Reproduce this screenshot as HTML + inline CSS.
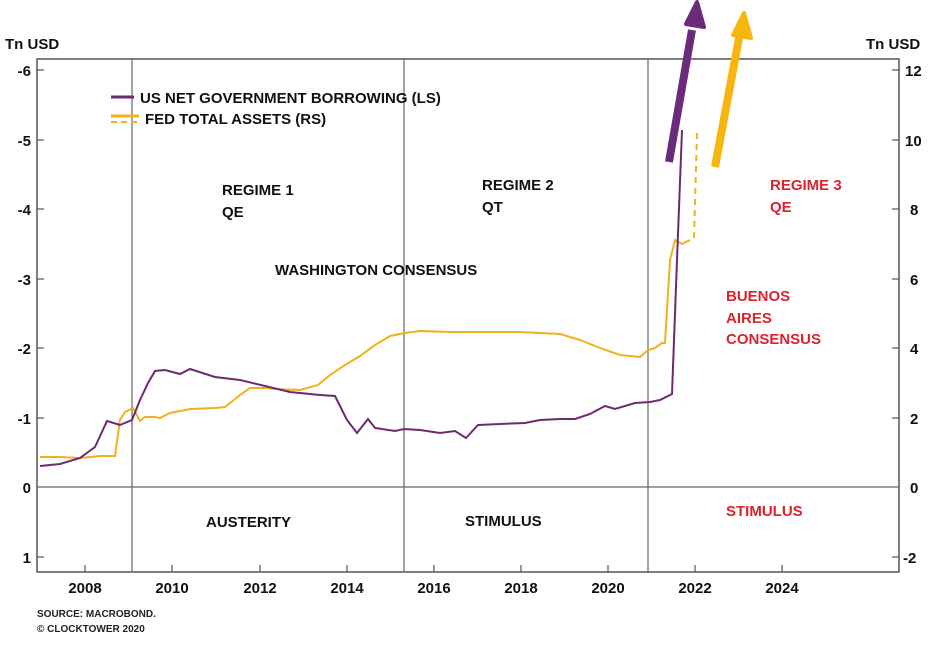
<!DOCTYPE html>
<html><head><style>body{margin:0;background:#fff}svg{display:block}text{font-family:"Liberation Sans",Arial,sans-serif;font-weight:bold}</style></head><body>
<svg width="940" height="651" viewBox="0 0 940 651" xmlns="http://www.w3.org/2000/svg">
<rect x="37" y="59" width="862" height="513" fill="none" stroke="#555" stroke-width="1.5"/>
<g stroke="#666" stroke-width="1.2">
<line x1="132" y1="59" x2="132" y2="572"/><line x1="404" y1="59" x2="404" y2="572"/><line x1="648" y1="59" x2="648" y2="572"/>
<line x1="37" y1="487" x2="899" y2="487"/>
</g>
<g stroke="#555" stroke-width="1.2">
<line x1="37" y1="70" x2="44" y2="70"/><line x1="37" y1="140" x2="44" y2="140"/><line x1="37" y1="209" x2="44" y2="209"/><line x1="37" y1="279" x2="44" y2="279"/><line x1="37" y1="348" x2="44" y2="348"/><line x1="37" y1="418" x2="44" y2="418"/><line x1="37" y1="557" x2="44" y2="557"/>
<line x1="892" y1="70" x2="899" y2="70"/><line x1="892" y1="140" x2="899" y2="140"/><line x1="892" y1="209" x2="899" y2="209"/><line x1="892" y1="279" x2="899" y2="279"/><line x1="892" y1="348" x2="899" y2="348"/><line x1="892" y1="418" x2="899" y2="418"/><line x1="892" y1="557" x2="899" y2="557"/>
<line x1="85" y1="572" x2="85" y2="565"/><line x1="172" y1="572" x2="172" y2="565"/><line x1="260" y1="572" x2="260" y2="565"/><line x1="347" y1="572" x2="347" y2="565"/><line x1="434" y1="572" x2="434" y2="565"/><line x1="521" y1="572" x2="521" y2="565"/><line x1="608" y1="572" x2="608" y2="565"/><line x1="695" y1="572" x2="695" y2="565"/><line x1="782" y1="572" x2="782" y2="565"/>
</g>
<g font-size="15" fill="#111">
<text x="5" y="49">Tn USD</text><text x="866" y="49">Tn USD</text>
<g text-anchor="end"><text x="31" y="76">-6</text><text x="31" y="146">-5</text><text x="31" y="215">-4</text><text x="31" y="285">-3</text><text x="31" y="354">-2</text><text x="31" y="424">-1</text><text x="31" y="493">0</text><text x="31" y="563">1</text></g>
<text x="905" y="76">12</text><text x="905" y="146">10</text><text x="910" y="215">8</text><text x="910" y="285">6</text><text x="910" y="354">4</text><text x="910" y="424">2</text><text x="910" y="493">0</text><text x="903" y="563">-2</text>
<g text-anchor="middle"><text x="85" y="593">2008</text><text x="172" y="593">2010</text><text x="260" y="593">2012</text><text x="347" y="593">2014</text><text x="434" y="593">2016</text><text x="521" y="593">2018</text><text x="608" y="593">2020</text><text x="695" y="593">2022</text><text x="782" y="593">2024</text></g>
<text x="140" y="103">US NET GOVERNMENT BORROWING (LS)</text>
<text x="145" y="124">FED TOTAL ASSETS (RS)</text>
<text x="222" y="195">REGIME 1</text><text x="222" y="217">QE</text>
<text x="482" y="190">REGIME 2</text><text x="482" y="212">QT</text>
<text x="275" y="275">WASHINGTON CONSENSUS</text>
<text x="206" y="527">AUSTERITY</text><text x="465" y="526">STIMULUS</text>
</g>
<g font-size="15" fill="#d9232e">
<text x="770" y="190">REGIME 3</text><text x="770" y="212">QE</text>
<text x="726" y="301">BUENOS</text><text x="726" y="323">AIRES</text><text x="726" y="344">CONSENSUS</text>
<text x="726" y="516">STIMULUS</text>
</g>
<g font-size="10" fill="#222"><text x="37" y="617">SOURCE: MACROBOND.</text><text x="37" y="632">© CLOCKTOWER 2020</text></g>
<line x1="111" y1="97" x2="134" y2="97" stroke="#6b2a6b" stroke-width="3"/>
<line x1="111" y1="116" x2="139" y2="116" stroke="#f2b01e" stroke-width="3"/>
<line x1="111" y1="122" x2="139" y2="122" stroke="#f2b01e" stroke-width="2" stroke-dasharray="6,4"/>
<polyline fill="none" stroke="#f2b01e" stroke-width="2" points="40,457 60,457 80,458 100,456 115,456 120,420 125,412 133,408 140,421 145,417 155,417 160,418 170,413 190,409 215,408 225,407 240,395 250,388 265,388 275,389 300,390 318,385 330,375 345,365 360,356 375,345 390,336 405,333 420,331 450,332 520,332 560,334 580,340 600,348 620,355 640,357 648,350 655,348 662,343 665,343 670,260 675,240 682,244 690,240"/>
<polyline fill="none" stroke="#f2b01e" stroke-width="2" stroke-dasharray="6,5" points="694,238 697,133"/>
<polyline fill="none" stroke="#6e2a70" stroke-width="2" points="40,466 60,464 80,458 95,447 107,421 120,425 132,420 140,400 148,383 155,371 165,370 180,374 190,369 215,377 240,380 265,386 290,392 320,395 335,396 347,420 357,433 368,419 375,428 395,431 404,429 420,430 440,433 455,431 466,438 478,425 500,424 525,423 540,420 560,419 575,419 590,414 605,406 615,409 635,403 650,402 660,400 672,394 677,260 682,130"/>
<line x1="669" y1="162" x2="692" y2="30" stroke="#6b2a7a" stroke-width="8"/>
<polygon points="697,2 686,24 704,27" fill="#6b2a7a" stroke="#6b2a7a" stroke-width="4" stroke-linejoin="round"/>
<line x1="715" y1="167" x2="739" y2="38" stroke="#f6b60e" stroke-width="8"/>
<polygon points="744,13 733,35 751,38" fill="#f6b60e" stroke="#f6b60e" stroke-width="4" stroke-linejoin="round"/>
</svg>
</body></html>
